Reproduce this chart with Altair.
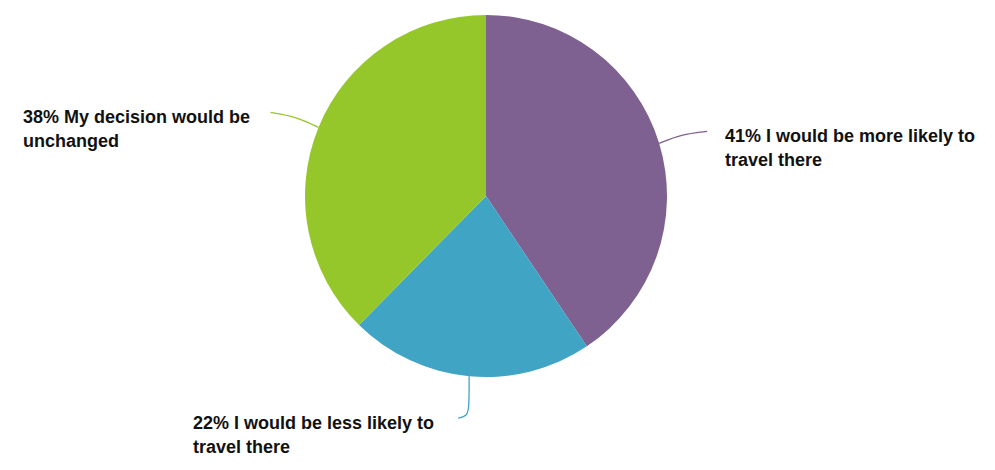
import math
import altair as alt
import pandas as pd

# ---- data ----
categories = ["I would be more likely to travel there",
              "I would be less likely to travel there",
              "My decision would be unchanged"]
values = [41, 22, 38]
label_lines = [["41% I would be more likely to", "travel there"],
               ["22% I would be less likely to", "travel there"],
               ["38% My decision would be", "unchanged"]]
colors = ["#7e6190", "#40a4c4", "#96c72a"]

# ---- layout / style constants ----
W, H = 979, 454
CX, CY, R = 478, 188, 181
# leader line bends/ends relative to slice edge point, and label anchors
leader_offsets = [[(0, 0), (22, -9), (48, -12)],
                  [(0, 0), (0, 31), (-2, 40), (-11, 42)],
                  [(0, 0), (-23, -11), (-48, -15)]]
label_pos = [(717, 134), (185, 421), (15, 115)]

pie_df = pd.DataFrame({"category": categories, "value": values,
                       "order": list(range(len(values)))})

total = sum(values)
line_rows, text_rows = [], []
cum = 0
for i, v in enumerate(values):
    mid = (cum + v / 2) / total * 2 * math.pi
    cum += v
    sx = CX + R * math.sin(mid)
    sy = CY - R * math.cos(mid)
    for j, (dx, dy) in enumerate(leader_offsets[i]):
        line_rows.append({"category": categories[i], "i": j,
                          "x": sx + dx, "y": sy + dy})
    text_rows.append({"category": categories[i], "text": label_lines[i],
                      "x": label_pos[i][0], "y": label_pos[i][1]})
line_df = pd.DataFrame(line_rows)
text_df = pd.DataFrame(text_rows)

color_scale = alt.Scale(domain=categories, range=colors)
xs = alt.Scale(domain=[0, W], range=[0, W])
ys = alt.Scale(domain=[0, H], range=[0, H])

pie = alt.Chart(pie_df).mark_arc(outerRadius=R, stroke=None).encode(
    theta=alt.Theta("value:Q", stack=True),
    order=alt.Order("order:Q"),
    color=alt.Color("category:N", scale=color_scale, legend=None),
    x=alt.value(CX), y=alt.value(CY),
)

lines = alt.Chart(line_df).mark_line(strokeWidth=1.3, interpolate="basis").encode(
    x=alt.X("x:Q", scale=xs, axis=None),
    y=alt.Y("y:Q", scale=ys, axis=None),
    detail="category:N",
    order="i:Q",
    color=alt.Color("category:N", scale=color_scale, legend=None),
)

texts = alt.Chart(text_df).mark_text(
    font="Liberation Sans", fontSize=18, fontWeight="bold", align="left",
    baseline="alphabetic", lineHeight=24, color="#111111"
).encode(
    x=alt.X("x:Q", scale=xs, axis=None),
    y=alt.Y("y:Q", scale=ys, axis=None),
    text="text",
)

chart = alt.layer(pie, lines, texts).properties(
    width=W, height=H, padding=0, autosize=alt.AutoSizeParams(type="none")
).configure_view(stroke=None)

chart.save("out.html", embed_options={"renderer": "svg", "actions": False})
